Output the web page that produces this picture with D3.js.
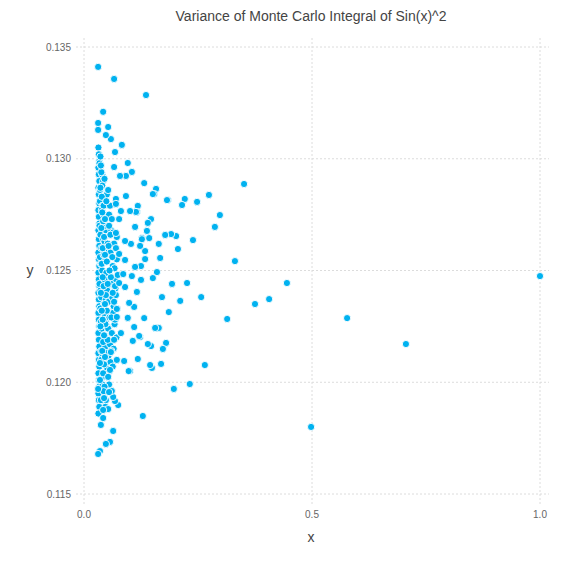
<!DOCTYPE html>
<html><head><meta charset="utf-8">
<script src="https://cdn.jsdelivr.net/npm/d3@7"></script>
<style>body{margin:0;background:#fff}text{font-family:"Helvetica Neue",Helvetica,"Liberation Sans",Arial,sans-serif}</style>
</head><body><div id="chart"></div>
<script>
// sparse points
var sparseX = [1.0,0.706,0.577,0.498,0.445,0.406,0.375,0.351,0.331,0.314,0.298,0.287,0.274,0.265,0.257,0.248,0.239,0.232,0.226,0.221,0.215,0.211,0.206,0.202,0.197,0.193,0.191,0.186,0.184,0.182,0.180,0.178,0.173,0.171,0.169,0.167,0.164,0.164,0.160,0.158,0.156,0.154,0.151,0.151,0.149,0.147,0.147,0.145,0.143,0.140,0.140,0.138,0.136,0.134,0.134,0.132,0.132,0.129,0.127,0.127,0.125,0.125,0.123,0.123,0.121,0.118,0.118,0.116,0.116,0.114,0.112,0.112,0.110,0.110,0.107,0.105,0.105,0.103,0.101,0.101,0.099,0.098,0.096,0.096,0.092,0.092,0.090,0.090,0.090,0.088,0.086,0.083,0.081,0.081,0.079,0.077,0.077,0.077,0.075,0.072,0.072,0.072,0.070,0.070,0.070,0.068,0.068,0.066,0.066,0.064,0.064,0.061,0.059,0.059,0.057,0.057,0.055,0.053,0.053,0.053,0.048,0.048,0.046,0.044,0.042,0.042,0.042,0.037,0.035,0.035,0.035,0.031,0.031,0.031,0.031,0.031];
var sparseY = [0.12475,0.12171,0.12287,0.11800,0.12444,0.12372,0.12350,0.12887,0.12542,0.12283,0.12748,0.12695,0.12838,0.12077,0.12381,0.12807,0.12636,0.11992,0.12444,0.12820,0.12793,0.12364,0.12596,0.12654,0.11970,0.12440,0.12663,0.12314,0.12815,0.12815,0.12176,0.12659,0.12149,0.12381,0.12082,0.12556,0.12619,0.12243,0.12493,0.12865,0.12243,0.12842,0.12466,0.12842,0.12064,0.12730,0.12162,0.12077,0.12645,0.12713,0.12171,0.12677,0.13285,0.12587,0.12551,0.12891,0.12287,0.11849,0.12645,0.12640,0.12520,0.12458,0.12610,0.12202,0.12207,0.12789,0.12104,0.12762,0.12404,0.12762,0.12695,0.12516,0.12247,0.12337,0.12185,0.12941,0.12475,0.12619,0.12766,0.12050,0.12355,0.12050,0.12981,0.12288,0.12923,0.12833,0.12632,0.12547,0.12426,0.12095,0.12484,0.13062,0.12766,0.12220,0.12923,0.12730,0.12574,0.12444,0.11898,0.12292,0.12100,0.12328,0.12820,0.12798,0.12668,0.13030,0.11916,0.12963,0.13357,0.11934,0.11782,0.11961,0.13088,0.12135,0.12055,0.11733,0.11956,0.13142,0.12024,0.11880,0.13106,0.11724,0.12113,0.11929,0.13210,0.11876,0.11840,0.11809,0.12086,0.12010,0.11692,0.13411,0.13160,0.13129,0.11970,0.11679];
// dense left column near x = 0.032
var columnY = [0.1305,0.1302,0.1299,0.1296,0.1293,0.1290,0.1287,0.1284,0.1280,0.1277,0.1274,0.1271,0.1268,0.1264,0.1261,0.1258,0.1255,0.1252,0.1249,0.1246,0.1243,0.1240,0.1237,0.1234,0.1231,0.1228,0.1225,0.1222,0.1219,0.1216,0.1213,0.1210,0.1207,0.1204,0.1201,0.1198,0.1195,0.1192,0.1189,0.1186];
// crowded cluster between x 0.035 and 0.075
var clusterX = [0.036,0.038,0.040,0.043,0.045,0.047,0.050,0.052,0.055,0.058,0.060,0.063,0.066,0.069,0.072,0.037,0.039,0.042,0.044,0.046,0.049,0.051,0.054,0.056,0.059,0.062,0.064,0.067,0.070,0.074,0.036,0.040,0.041,0.045,0.048,0.050,0.053,0.057,0.058,0.061,0.065,0.068,0.071,0.073,0.038,0.039,0.043,0.046,0.047,0.052,0.054,0.056,0.060,0.063,0.066,0.069,0.037,0.041,0.044,0.049,0.051,0.055,0.059,0.062,0.067,0.072,0.036,0.040,0.042,0.045,0.048,0.053,0.057,0.061,0.064,0.070,0.038,0.043,0.047,0.050,0.054,0.058,0.065,0.068,0.039,0.044,0.046,0.052,0.056,0.063,0.037,0.041,0.049,0.055,0.060,0.066];
var clusterY = [0.1301,0.1294,0.1288,0.1279,0.1291,0.1270,0.1284,0.1262,0.1275,0.1258,0.1268,0.1252,0.1262,0.1246,0.1255,0.1297,0.1283,0.1272,0.1265,0.1257,0.1249,0.1241,0.1236,0.1229,0.1244,0.1238,0.1231,0.1226,0.1239,0.1248,0.1287,0.1276,0.1260,0.1246,0.1239,0.1232,0.1224,0.1217,0.1209,0.1222,0.1215,0.1228,0.1220,0.1233,0.1269,0.1253,0.1243,0.1235,0.1226,0.1219,0.1212,0.1205,0.1214,0.1207,0.1219,0.1242,0.1240,0.1228,0.1221,0.1213,0.1206,0.1199,0.1247,0.1256,0.1251,0.1265,0.1225,0.1214,0.1204,0.1198,0.1192,0.1286,0.1279,0.1273,0.1267,0.1260,0.1210,0.1196,0.1189,0.1254,0.1261,0.1266,0.1234,0.1243,0.1232,0.1208,0.1273,0.1244,0.1250,0.1240,0.1192,0.1247,0.1281,0.1270,0.1229,0.1236];
// second crowded batch close to the left column
var cluster2X = [0.034,0.035,0.036,0.037,0.038,0.039,0.040,0.041,0.042,0.043,0.044,0.045,0.046,0.047,0.048,0.034,0.035,0.036,0.037,0.038,0.039,0.040,0.041,0.042,0.043,0.044,0.045,0.046,0.047,0.048,0.034,0.036,0.038,0.040,0.042,0.044,0.046,0.048,0.050,0.052,0.035,0.037,0.039,0.041,0.043,0.045,0.047,0.049,0.051,0.053];
var cluster2Y = [0.1298,0.1281,0.1266,0.1253,0.1238,0.1224,0.1211,0.1199,0.1290,0.1275,0.1259,0.1245,0.1230,0.1216,0.1203,0.1270,0.1256,0.1241,0.1227,0.1214,0.1202,0.1293,0.1279,0.1264,0.1249,0.1235,0.1221,0.1208,0.1282,0.1268,0.1244,0.1233,0.1260,0.1250,0.1218,0.1271,0.1254,0.1237,0.1225,0.1246,0.1286,0.1209,0.1277,0.1232,0.1257,0.1263,0.1242,0.1228,0.1270,0.1258];
var xTicks = [0, 0.5, 1.0];
var yTicks = [0.115, 0.120, 0.125, 0.130, 0.135];

var points = [];
columnY.forEach(function(v, i){ points.push({x: 0.0316 + (i % 3) * 0.001, y: v}); });
cluster2X.forEach(function(v, i){ points.push({x: v, y: cluster2Y[i]}); });
clusterX.forEach(function(v, i){ points.push({x: v, y: clusterY[i]}); });
sparseX.forEach(function(v, i){ points.push({x: v, y: sparseY[i]}); });

var W = 567, H = 567;
var svg = d3.select("#chart").append("svg").attr("width", W).attr("height", H);
var x = d3.scaleLinear().domain([0, 1]).range([84, 540]);
var y = d3.scaleLinear().domain([0.115, 0.135]).range([494, 47]);

var grid = svg.append("g").attr("stroke", "#dcdcdc").attr("stroke-dasharray", "2,2").attr("stroke-width", 1);
xTicks.forEach(function(t){
  grid.append("line").attr("x1", x(t)).attr("x2", x(t)).attr("y1", 38).attr("y2", 504);
});
yTicks.forEach(function(t){
  grid.append("line").attr("x1", 76).attr("x2", 549).attr("y1", y(t)).attr("y2", y(t));
});

svg.append("g").selectAll("text").data(xTicks).enter().append("text")
  .attr("x", function(d){ return x(d); }).attr("y", 518).attr("text-anchor", "middle")
  .attr("font-size", 10).attr("fill", "#666").text(function(d){ return d3.format(".1f")(d); });
svg.append("g").selectAll("text").data(yTicks).enter().append("text")
  .attr("x", 71).attr("y", function(d){ return y(d) + 3.5; }).attr("text-anchor", "end")
  .attr("font-size", 10).attr("fill", "#666").text(function(d){ return d3.format(".3f")(d); });

svg.append("g").selectAll("circle").data(points).enter().append("circle")
  .attr("cx", function(d){ return x(d.x); }).attr("cy", function(d){ return y(d.y); })
  .attr("r", 3.6).attr("fill", "#00b2f0").attr("stroke", "#fff").attr("stroke-width", 0.9);

svg.append("text").attr("x", 311).attr("y", 21).attr("text-anchor", "middle")
  .attr("font-size", 14).attr("fill", "#444").text("Variance of Monte Carlo Integral of Sin(x)^2");
svg.append("text").attr("x", 311).attr("y", 542).attr("text-anchor", "middle")
  .attr("font-size", 14).attr("fill", "#444").text("x");
svg.append("text").attr("x", 30).attr("y", 275).attr("text-anchor", "middle")
  .attr("font-size", 14).attr("fill", "#444").text("y");
</script></body></html>
